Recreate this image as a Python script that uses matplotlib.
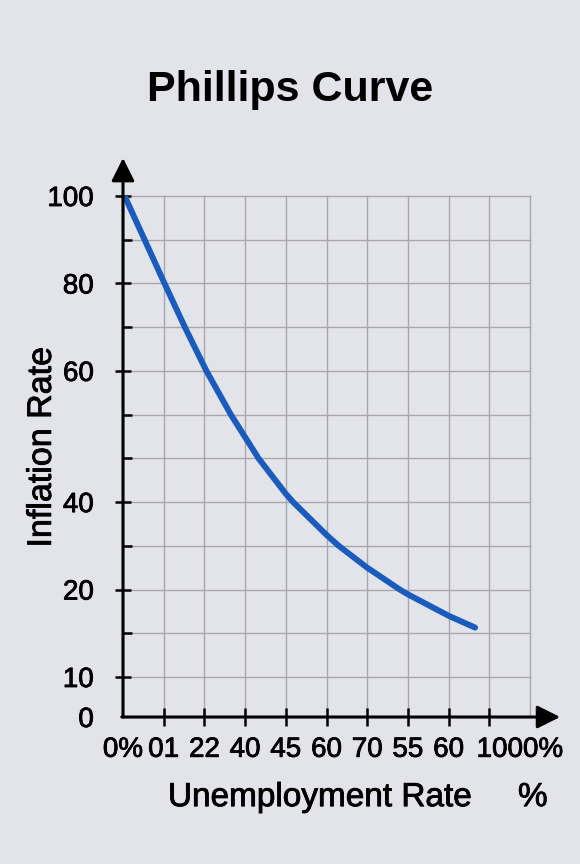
import numpy as np
import matplotlib
matplotlib.use('Agg')
from matplotlib import pyplot as plt
from matplotlib.transforms import ScaledTranslation
import matplotlib.patheffects as pe

# curve, in grid squares (x: columns, y: rows)
curve_x = [0.04, 0.53, 1.02, 1.52, 2.05, 2.65, 3.33, 4.00, 4.18, 5.00, 5.30, 6.00, 6.80, 7.00, 8.00, 8.65]
curve_y = [12.0, 11.0, 10.0, 9.0, 8.0, 7.0, 6.0, 5.19, 5.0, 4.25, 4.0, 3.50, 3.0, 2.89, 2.40, 2.13]

x_ticks = [0, 1, 2, 3, 4, 5, 6, 7, 8, 9, 10]
x_labels = ['0%', '01', '22', '40', '45', '60', '70', '55', '60', '', '1000%']

y_bottom = 0.085
y_ticks = [y_bottom, 1, 3, 5, 8, 10, 12]
y_labels = ['0', '10', '20', '40', '60', '80', '100']
y_minor = [2, 4, 6, 7, 9, 11]

bg = '#e3e3ea'
blue = '#1a5cbd'
heavy = [pe.withStroke(linewidth=0.6, foreground='black')]

plt.rcParams['font.family'] = ['Liberation Sans', 'DejaVu Sans']

fig = plt.figure(figsize=(5.8, 8.64), dpi=100, facecolor=bg)
ax = fig.add_axes([123/580, 1-717/864, (530-123)/580, (717-196)/864])
ax.set_facecolor(bg)

ax.set_xlim(0, 10)
ax.set_ylim(y_bottom, 12)

for s in ax.spines.values():
	s.set_visible(False)

ax.set_xticks(x_ticks)
ax.set_xticklabels(x_labels)
ax.set_yticks(y_ticks)
ax.set_yticklabels(y_labels)
ax.set_yticks(y_minor, minor=True)

ax.tick_params(axis='x', direction='inout', length=13.5, width=1.8, pad=7.5, labelsize=20, colors='black')
ax.tick_params(axis='y', which='major', direction='inout', length=12, width=1.8, pad=15, labelsize=20)
ax.tick_params(axis='y', which='minor', direction='in', length=6.5, width=1.8)

for lab in ax.get_xticklabels() + ax.get_yticklabels():
	lab.set_path_effects(heavy)

# no tick marks at the corner and at the right edge
ax.xaxis.get_major_ticks()[0].tick1line.set_visible(False)
ax.xaxis.get_major_ticks()[10].tick1line.set_visible(False)
ax.yaxis.get_major_ticks()[0].tick1line.set_visible(False)

lab = ax.get_xticklabels()[10]
lab.set_transform(lab.get_transform() + ScaledTranslation(-0.10, 0, fig.dpi_scale_trans))

ax.grid(True, which='both', color='#a6a6ac', lw=1.0)
ax.set_axisbelow(True)
for t in ax.xaxis.get_major_ticks() + ax.yaxis.get_major_ticks() + ax.yaxis.get_minor_ticks():
	t.gridline.set_clip_on(False)

ax.plot(curve_x, curve_y, color=blue, lw=4.3, solid_capstyle='round', solid_joinstyle='round', zorder=3)

# axes with arrows
arrow = dict(arrowstyle='-|>,head_length=0.5,head_width=0.25', lw=2.2, color='black',
	mutation_scale=28, shrinkA=0, shrinkB=0)
ax.annotate('', xy=(0, 1.073), xytext=(0, 0), xycoords='axes fraction', arrowprops=arrow, zorder=5)
ax.annotate('', xy=(1.074, 0), xytext=(-0.003, 0), xycoords='axes fraction', arrowprops=arrow, zorder=5)

ax.set_xlabel('Unemployment Rate', fontsize=24, path_effects=heavy)
ax.xaxis.set_label_coords(0.484, -0.125)
ax.text(1.007, -0.125, '%', transform=ax.transAxes, fontsize=24, ha='center', va='top', path_effects=heavy)

ax.set_ylabel('Inflation Rate', fontsize=24.5, path_effects=heavy)
ax.yaxis.set_label_coords(-0.160, 0.518)

fig.text(0.5, 1-101/864, 'Phillips Curve', fontsize=31, fontweight='bold', ha='center', va='baseline')

fig.savefig('out.png', dpi=100, facecolor=bg)
